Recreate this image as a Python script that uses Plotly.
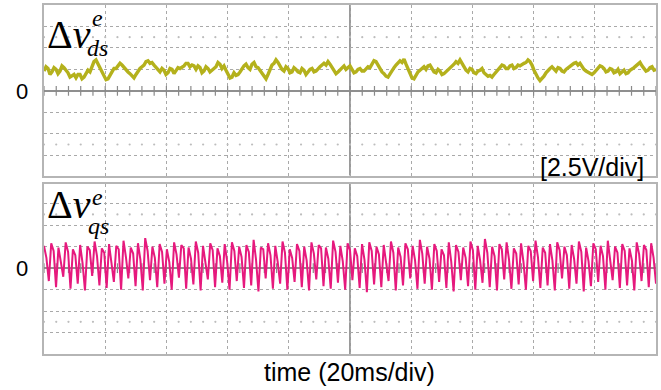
import numpy as np
import plotly.graph_objects as go

# ---------------- data (volts, 2.5 V/div; time in ms, 20 ms/div) ----------------
time_span_ms = 200

vds_volts = [
    2.3, 2.8, 2.6, 1.9, 2.2, 2.7, 2.5, 2.0, 2.3, 2.9, 2.7, 2.4, 2.1, 1.6, 1.8, 1.9,
    1.5, 1.9, 1.9, 1.4, 1.6, 2.0, 2.4, 2.2, 2.9, 3.4, 3.6, 3.1, 2.8, 2.2, 1.8, 1.3,
    1.4, 1.9, 2.2, 2.6, 2.6, 2.9, 3.2, 3.0, 2.7, 2.5, 2.2, 2.0, 1.7, 1.5, 1.9, 2.3,
    2.6, 2.8, 3.0, 3.4, 3.5, 3.2, 3.3, 3.0, 2.7, 2.5, 2.2, 2.6, 2.4, 1.9, 2.1, 2.6,
    2.5, 2.0, 2.3, 2.7, 2.6, 2.7, 2.9, 3.2, 3.2, 2.8, 3.0, 2.9, 2.5, 2.9, 2.7, 2.1,
    2.3, 2.8, 2.6, 2.2, 2.4, 2.6, 2.8, 3.3, 3.1, 2.6, 2.9, 2.4, 2.0, 1.5, 1.6, 2.1,
    1.8, 1.9, 2.2, 2.6, 2.9, 3.1, 2.7, 2.5, 3.1, 3.3, 2.8, 2.7, 2.4, 2.0, 1.7, 1.4,
    1.9, 2.5, 3.0, 3.2, 3.6, 3.3, 2.9, 2.5, 2.3, 2.8, 2.6, 2.1, 2.2, 2.7, 2.5, 2.2,
    2.1, 2.6, 2.4, 1.9, 2.2, 2.5, 2.6, 2.2, 2.3, 2.6, 2.8, 3.0, 3.2, 3.0, 3.4, 3.1,
    2.7, 2.3, 2.0, 2.2, 2.4, 2.6, 2.9, 2.5, 2.7, 2.9, 2.5, 2.1, 2.2, 2.5, 2.6, 2.3,
    2.3, 2.5, 2.8, 2.7, 3.1, 3.5, 3.4, 3.0, 2.6, 2.2, 2.0, 1.7, 1.6, 2.0, 2.3, 2.7,
    3.0, 3.3, 3.5, 3.3, 3.7, 3.1, 2.6, 2.0, 1.5, 1.4, 1.8, 2.2, 2.4, 2.6, 2.8, 2.5,
    2.9, 3.0, 2.5, 2.2, 2.1, 2.5, 2.3, 1.9, 2.0, 2.2, 2.4, 2.7, 2.9, 3.1, 3.4, 3.2,
    3.6, 3.2, 2.8, 2.4, 2.2, 2.6, 2.5, 2.1, 2.0, 2.3, 2.4, 2.6, 2.1, 1.9, 1.7, 1.8,
    1.6, 1.9, 2.2, 2.5, 2.7, 3.0, 2.9, 2.6, 2.6, 2.9, 3.0, 2.6, 2.7, 3.0, 2.9, 3.1,
    3.2, 3.3, 3.6, 3.4, 3.0, 2.4, 1.9, 1.5, 1.2, 1.4, 1.7, 2.1, 2.4, 2.6, 2.8, 2.5,
    2.3, 2.7, 2.6, 2.3, 2.2, 2.5, 2.7, 2.9, 3.0, 3.2, 3.3, 3.0, 3.2, 2.8, 2.5, 2.3,
    2.2, 2.0, 1.9, 2.1, 2.4, 2.7, 2.9, 2.8, 2.6, 2.2, 2.3, 2.6, 2.5, 2.1, 2.2, 2.5,
    2.0, 2.2, 2.4, 2.0, 2.1, 2.4, 2.5, 2.7, 2.9, 3.1, 3.3, 2.9, 2.6, 2.3, 2.4, 2.7,
    2.8, 2.4, 2.5,
]

vqs_volts = [
    2.6, 1.2, -1.5, 2.9, 2.0, -2.2, 2.4, 0.8, -1.0, 3.0, 1.9, -2.4, 2.2, 1.5, -1.8,
    2.7, 0.6, -2.6, 2.5, 2.1, -0.9, 3.1, 1.4, -2.0, 2.3, 1.8, -2.3, 2.8, 0.9, -1.6,
    2.6, 2.2, -2.5, 3.2, 1.3, -1.2, 2.4, 1.7, -2.1, 2.9, 1.0, -2.6, 3.5, 2.0, -1.4,
    2.5, 1.2, -2.2, 2.8, 1.9, -1.8, 2.2, 0.7, -2.5, 3.0, 1.6, -1.1, 2.7, 2.3, -2.4,
    2.4, 1.1, -1.9, 3.1, 1.8, -2.6, 2.6, 0.9, -1.3, 2.9, 2.1, -2.2, 2.3, 1.4, -1.7,
    2.8, 0.8, -2.5, 3.0, 2.0, -1.5, 2.5, 1.3, -2.3, 2.7, 1.9, -2.0, 3.3, 1.0, -2.7,
    2.4, 2.2, -1.2, 2.9, 1.5, -2.4, 2.6, 0.7, -1.8, 3.1, 1.8, -2.5, 2.2, 1.2, -1.6,
    2.8, 2.0, -2.2, 2.5, 0.9, -2.6, 3.0, 1.7, -1.3, 2.7, 2.3, -2.1, 2.4, 1.1, -2.4,
    3.2, 1.9, -1.7, 2.6, 0.8, -2.5, 2.9, 2.1, -1.4, 2.3, 1.4, -2.3, 2.8, 1.0, -2.8,
    3.0, 2.0, -1.9, 2.5, 1.6, -2.2, 2.7, 0.7, -1.5, 3.1, 1.8, -2.6, 2.4, 1.3, -2.0,
    2.9, 2.2, -1.2, 2.6, 0.9, -2.4, 3.3, 1.7, -1.8, 2.5, 1.1, -2.5, 2.8, 2.0, -1.6,
    2.2, 1.5, -2.3, 3.0, 0.8, -2.7, 2.7, 1.9, -1.4, 2.4, 1.2, -2.1, 3.1, 2.1, -2.5,
    2.6, 0.9, -1.7, 3.4, 1.8, -2.2, 2.5, 1.4, -2.6, 2.8, 2.2, -1.3, 3.0, 1.0, -2.4,
    2.3, 1.7, -1.9, 2.9, 0.7, -2.5, 2.6, 2.0, -1.5, 3.2, 1.3, -2.3, 2.4, 1.8, -2.0,
    2.8, 0.9, -2.6, 3.0, 2.1, -1.2, 2.5, 1.5, -2.4, 2.7, 1.1, -1.8, 3.1, 1.9, -2.7,
    2.4, 0.8, -2.1, 2.9, 2.2, -1.6, 2.6, 1.4, -2.5, 3.2, 1.0, -1.4, 2.5, 1.8, -2.3,
    2.8, 2.0, -2.0, 2.3, 0.9, -2.6, 3.0, 1.6, -1.5, 2.7, 2.1, -2.2, 2.9, 1.2, -1.8,
]

volts_per_div = 2.5
ms_per_div = 20
grid_volts = [-7.5, -5.0, -2.5, 2.5, 5.0, 7.5]
dot_row_volts = [-6.25, 6.25]

t_ds = np.linspace(0, time_span_ms, len(vds_volts))
t_qs = np.linspace(0, time_span_ms, len(vqs_volts))

# ---------------- figure ----------------
W, H = 661, 390
ML, MR, MT, MB = 44, 4, 3, 36
PH = H - MT - MB


def px_x(p):
    return (p - ML) / (W - ML - MR)


def px_y(p):
    return (H - MB - p) / PH


fig = go.Figure()

GRID = "#a9a9a9"
tick_x = np.arange(0, time_span_ms + 0.001, ms_per_div / 5)

for xa, ya in (("x", "y"), ("x2", "y2")):
    fig.add_trace(go.Scatter(x=tick_x, y=np.zeros_like(tick_x), mode="markers",
                             marker=dict(symbol="line-ns", size=7,
                                         line=dict(color="#8a8a8a", width=1.2)),
                             xaxis=xa, yaxis=ya, hoverinfo="skip", showlegend=False))
    for v in dot_row_volts:
        fig.add_trace(go.Scatter(x=tick_x, y=np.full_like(tick_x, v), mode="markers",
                                 marker=dict(symbol="circle", size=2.2, color="#bdbdbd"),
                                 xaxis=xa, yaxis=ya, hoverinfo="skip", showlegend=False))

fig.add_trace(go.Scatter(x=t_ds, y=vds_volts, mode="lines",
                         line=dict(color="#b4b11c", width=3.4),
                         xaxis="x", yaxis="y", showlegend=False))
fig.add_trace(go.Scatter(x=t_qs, y=vqs_volts, mode="lines",
                         line=dict(color="#e6197d", width=2.0),
                         xaxis="x2", yaxis="y2", showlegend=False))

top_dom = [px_y(174.6), 1.0]
bot_dom = [0.0, px_y(183.0)]

common_x = dict(range=[0, time_span_ms], dtick=ms_per_div, tick0=0, showgrid=True,
                gridcolor=GRID, griddash="dot", gridwidth=1, showticklabels=False,
                ticks="", zeroline=False, showline=True, mirror=True,
                linecolor="#b5b5b5", linewidth=1.5)
common_y = dict(tickmode="array", tickvals=grid_volts, showgrid=True, gridcolor=GRID,
                griddash="dot", gridwidth=1, showticklabels=False, ticks="",
                zeroline=True, zerolinecolor="#8f8f8f", zerolinewidth=1.5,
                showline=True, mirror=True, linecolor="#b5b5b5", linewidth=1.5)

fig.update_layout(
    width=W, height=H,
    margin=dict(l=ML, r=MR, t=MT, b=MB),
    paper_bgcolor="white", plot_bgcolor="white",
    xaxis=dict(domain=[0, 1], anchor="y", **common_x),
    yaxis=dict(domain=top_dom, anchor="x", range=[-9.87, 9.99], **common_y),
    xaxis2=dict(domain=[0, 1], anchor="y2", **common_x),
    yaxis2=dict(domain=bot_dom, anchor="x2", range=[-9.99, 9.80], **common_y),
)

for xr, yr in (("x", "y domain"), ("x2", "y2 domain")):
    fig.add_shape(type="line", xref=xr, yref=yr, x0=time_span_ms / 2, x1=time_span_ms / 2,
                  y0=0, y1=1, line=dict(color="#9a9a9a", width=2), layer="below")

sans = "Liberation Sans, Arial, sans-serif"
serif = "Liberation Serif, Times New Roman, serif"

ann = [
    dict(text="0", x=px_x(22), y=px_y(89.5), xanchor="center", yanchor="middle",
         font=dict(family=sans, size=22, color="black")),
    dict(text="0", x=px_x(22), y=px_y(268), xanchor="center", yanchor="middle",
         font=dict(family=sans, size=22, color="black")),
    dict(text="[2.5V/div]", x=px_x(647), y=px_y(166), xanchor="right", yanchor="middle",
         font=dict(family=sans, size=25, color="black")),
    dict(text="time (20ms/div)", x=px_x(350), y=px_y(372), xanchor="center", yanchor="middle",
         font=dict(family=sans, size=25, color="black")),
    dict(text="Δ<i>v</i>", x=px_x(45), y=px_y(33), xanchor="left", yanchor="middle",
         font=dict(family=serif, size=40, color="black")),
    dict(text="<i>e</i>", x=px_x(98), y=px_y(16), xanchor="center", yanchor="middle",
         font=dict(family=serif, size=24, color="black")),
    dict(text="<i>ds</i>", x=px_x(98), y=px_y(46), xanchor="center", yanchor="middle",
         font=dict(family=serif, size=24, color="black")),
    dict(text="Δ<i>v</i>", x=px_x(45), y=px_y(204), xanchor="left", yanchor="middle",
         font=dict(family=serif, size=40, color="black")),
    dict(text="<i>e</i>", x=px_x(98), y=px_y(196), xanchor="center", yanchor="middle",
         font=dict(family=serif, size=24, color="black")),
    dict(text="<i>qs</i>", x=px_x(99), y=px_y(225), xanchor="center", yanchor="middle",
         font=dict(family=serif, size=24, color="black")),
]
for a in ann:
    a.update(xref="paper", yref="paper", showarrow=False)
fig.update_layout(annotations=ann)

fig.write_html("out.html", config={"displayModeBar": False},
               post_script="document.body.style.margin='0';document.body.style.overflow='hidden';")
